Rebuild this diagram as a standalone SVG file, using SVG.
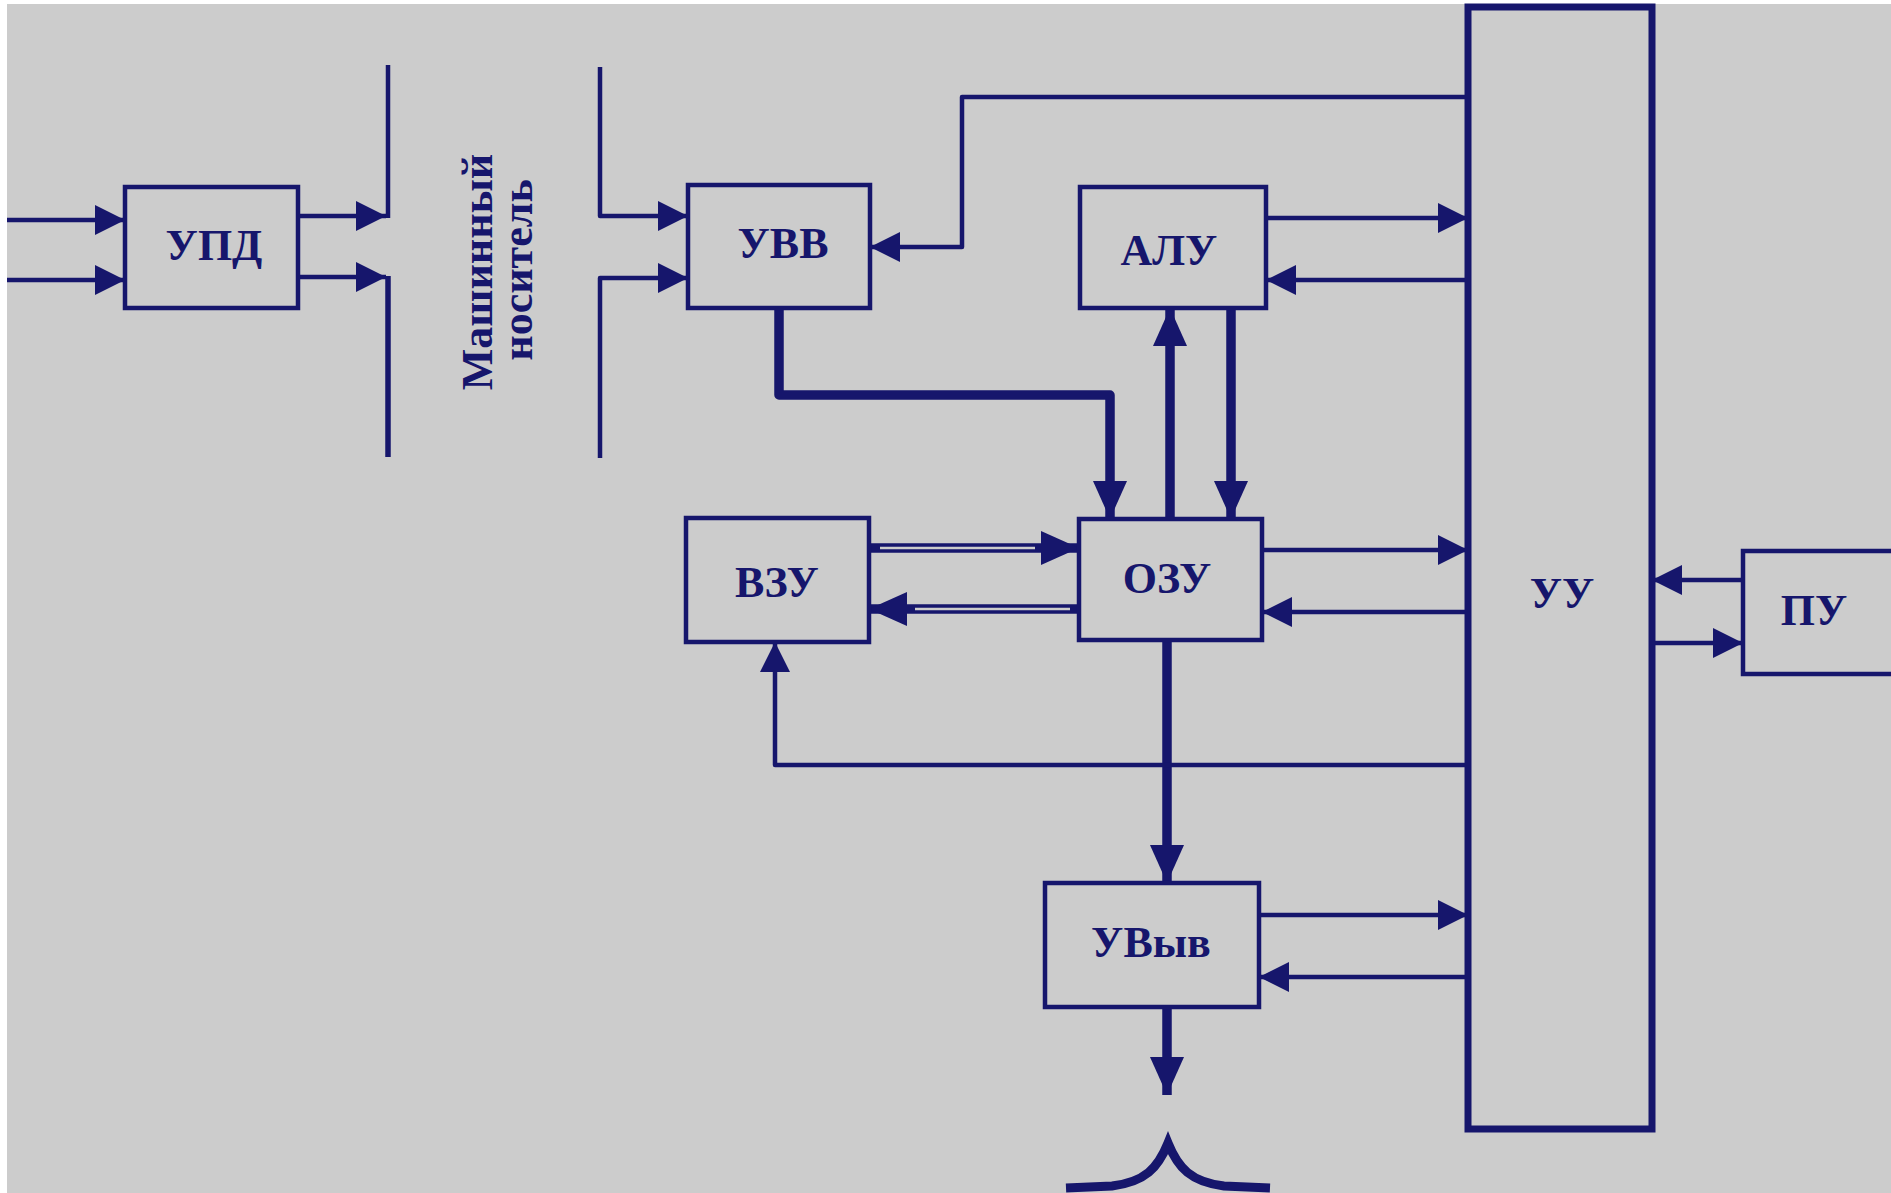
<svg xmlns="http://www.w3.org/2000/svg" width="1891" height="1193" viewBox="0 0 1891 1193">
<style>
.box{fill:none;stroke:#16166c;stroke-width:4.5;stroke-linejoin:miter}
.uu{fill:none;stroke:#16166c;stroke-width:7}
.lbl{font-family:"Liberation Serif","Times New Roman",serif;font-weight:bold;font-size:44px;fill:#16166c;text-anchor:middle}
.thin{fill:none;stroke:#16166c;stroke-width:4.5;stroke-linejoin:round}
.thick{fill:none;stroke:#16166c;stroke-width:9.5;stroke-linejoin:round}
.stripe{fill:none;stroke:#cccccc;stroke-width:2.5}
</style>
<defs>
<marker id="a" markerUnits="userSpaceOnUse" markerWidth="30" markerHeight="30" refX="30" refY="15" orient="auto">
<path d="M0,0 L30,15 L0,30 z" fill="#16166c"/>
</marker>
<marker id="aT" markerUnits="userSpaceOnUse" markerWidth="38" markerHeight="34" refX="38" refY="17" orient="auto">
<path d="M0,0 L38,17 L0,34 z" fill="#16166c"/>
</marker>
</defs>
<rect width="1891" height="1193" fill="#ffffff"/>
<rect x="7" y="4" width="1884" height="1189" fill="#cccccc"/>

<g id="connectors">
<!-- УПД inputs -->
<path class="thin" d="M7,220 H125" marker-end="url(#a)"/>
<path class="thin" d="M7,280 H125" marker-end="url(#a)"/>
<!-- УПД outputs -->
<path class="thin" d="M298,216 H386" marker-end="url(#a)"/>
<path class="thin" d="M298,277 H386" marker-end="url(#a)"/>
<path class="thin" d="M388,65 V218"/>
<path class="thin" style="stroke-width:5.5" d="M388,276 V457"/>
<!-- carrier to УВВ -->
<path class="thin" d="M600,67 V216 H688" marker-end="url(#a)"/>
<path class="thin" d="M600,458 V278 H688" marker-end="url(#a)"/>
<!-- УУ to УВВ -->
<path class="thin" d="M1468,97 H962 V247 H870" marker-end="url(#a)"/>
<!-- УВВ to ОЗУ -->
<path class="thick" d="M779,308 V395 H1110 V519" marker-end="url(#aT)"/>
<!-- ОЗУ to АЛУ -->
<path class="thick" d="M1170,519 V308" marker-end="url(#aT)"/>
<!-- АЛУ to ОЗУ -->
<path class="thick" d="M1231,308 V519" marker-end="url(#aT)"/>
<!-- ВЗУ to ОЗУ -->
<path class="thick" d="M869,548 H1079" marker-end="url(#aT)"/>
<path class="stripe" d="M880,548 H1035"/>
<!-- ОЗУ to ВЗУ -->
<path class="thick" d="M1079,609 H869" marker-end="url(#aT)"/>
<path class="stripe" d="M915,609 H1070"/>
<!-- ОЗУ to УВыв -->
<path class="thick" d="M1167,640 V883" marker-end="url(#aT)"/>
<!-- УВыв output -->
<path class="thick" d="M1167,1007 V1095" marker-end="url(#aT)"/>
<!-- brace -->
<path class="thick" style="stroke-width:9;stroke-linejoin:miter" d="M1066,1188 L1112,1186 C1145,1182 1158,1168 1168,1143 C1178,1168 1191,1182 1224,1186 L1270,1188"/>
<!-- АЛУ / УУ -->
<path class="thin" d="M1266,218 H1468" marker-end="url(#a)"/>
<path class="thin" d="M1468,280 H1266" marker-end="url(#a)"/>
<!-- ОЗУ / УУ -->
<path class="thin" d="M1262,550 H1468" marker-end="url(#a)"/>
<path class="thin" d="M1468,612 H1262" marker-end="url(#a)"/>
<!-- УУ to ВЗУ -->
<path class="thin" d="M1468,765 H775 V642" marker-end="url(#a)"/>
<!-- УВыв / УУ -->
<path class="thin" d="M1259,915 H1468" marker-end="url(#a)"/>
<path class="thin" d="M1468,977 H1259" marker-end="url(#a)"/>
<!-- ПУ / УУ -->
<path class="thin" d="M1743,580 H1652" marker-end="url(#a)"/>
<path class="thin" d="M1652,643 H1743" marker-end="url(#a)"/>
</g>

<g id="node-upd">
<rect class="box" x="125" y="187" width="173" height="121"/>
<text class="lbl" x="214" y="260">УПД</text>
</g>
<g id="node-carrier">
<text class="lbl" transform="translate(492,272) rotate(-90)">Машинный</text>
<text class="lbl" transform="translate(532,270) rotate(-90)">носитель</text>
</g>
<g id="node-uvv">
<rect class="box" x="688" y="185" width="182" height="123"/>
<text class="lbl" x="783" y="258">УВВ</text>
</g>
<g id="node-alu">
<rect class="box" x="1080" y="187" width="186" height="121"/>
<text class="lbl" x="1169" y="265">АЛУ</text>
</g>
<g id="node-vzu">
<rect class="box" x="686" y="518" width="183" height="124"/>
<text class="lbl" x="777" y="597">ВЗУ</text>
</g>
<g id="node-ozu">
<rect class="box" x="1079" y="519" width="183" height="121"/>
<text class="lbl" x="1167" y="593">ОЗУ</text>
</g>
<g id="node-uvyv">
<rect class="box" x="1045" y="883" width="214" height="124"/>
<text class="lbl" x="1151" y="957">УВыв</text>
</g>
<g id="node-uu">
<rect class="uu" x="1468" y="7" width="184" height="1122"/>
<text class="lbl" x="1562" y="608">УУ</text>
</g>
<g id="node-pu">
<path class="box" d="M1900,551 H1743 V674 H1900"/>
<text class="lbl" x="1814" y="625">ПУ</text>
</g>
</svg>
